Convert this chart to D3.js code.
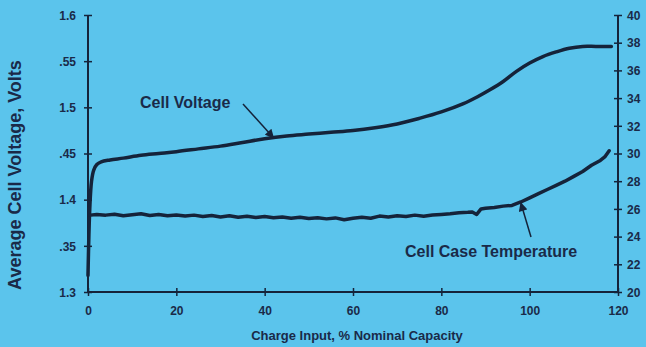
<!DOCTYPE html>
<html>
<head>
<meta charset="utf-8">
<script src="https://cdn.jsdelivr.net/npm/d3@7/dist/d3.min.js"></script>
<style>
  html, body { margin: 0; padding: 0; background: #5bc4ec; }
  svg { display: block; }
  text { font-family: Arial, "Liberation Sans", sans-serif; font-weight: bold; fill: #1a2a48; }
</style>
</head>
<body>
<svg id="chart" width="646" height="347"></svg>
<script>
// Charge input, % of nominal capacity
const voltagePct = [0, 0.4, 0.8, 1.3, 2, 3, 5, 8, 12, 16, 20, 25, 30, 35, 40, 45, 50, 55, 60, 65, 70, 75, 80, 85, 88, 91, 94, 97, 100, 103, 106, 109, 112, 115, 118.5];
// Average cell voltage, volts
const voltageValues = [1.318, 1.39, 1.42, 1.432, 1.438, 1.441, 1.443, 1.445, 1.448, 1.450, 1.452, 1.455, 1.458, 1.462, 1.466, 1.469, 1.471, 1.473, 1.475, 1.478, 1.482, 1.488, 1.495, 1.504, 1.511, 1.519, 1.528, 1.539, 1.548, 1.555, 1.560, 1.564, 1.566, 1.566, 1.566];

const tempPct = [0.5, 2, 4, 6, 8, 10, 12, 14, 16, 18, 20, 22, 24, 26, 28, 30, 32, 34, 36, 38, 40, 42, 44, 46, 48, 50, 52, 54, 56, 58, 60, 62, 64, 66, 68, 70, 72, 74, 76, 78, 80, 82, 84, 86, 87, 88, 89, 90, 92, 94, 96, 98, 100, 102, 104, 106, 108, 110, 112, 114, 116, 117, 118];
// Cell case temperature, deg C
const tempValues = [25.55, 25.6, 25.55, 25.62, 25.5, 25.58, 25.65, 25.52, 25.6, 25.5, 25.56, 25.48, 25.55, 25.45, 25.52, 25.42, 25.5, 25.4, 25.47, 25.38, 25.45, 25.36, 25.42, 25.33, 25.4, 25.3, 25.36, 25.28, 25.35, 25.22, 25.33, 25.4, 25.32, 25.48, 25.42, 25.5, 25.45, 25.55, 25.47, 25.56, 25.6, 25.65, 25.72, 25.75, 25.78, 25.6, 26.0, 26.05, 26.1, 26.2, 26.25, 26.5, 26.8, 27.1, 27.4, 27.7, 28.0, 28.35, 28.7, 29.15, 29.5, 29.75, 30.2];

const xTicks = [0, 20, 40, 60, 80, 100, 120];
const leftTickValues = [1.3, 1.35, 1.4, 1.45, 1.5, 1.55, 1.6];
const leftTickLabels = ["1.3", ".35", "1.4", ".45", "1.5", ".55", "1.6"];
const rightTicks = [20, 22, 24, 26, 28, 30, 32, 34, 36, 38, 40];

const ink = "#15233a";
const svg = d3.select("#chart");
const plotL = 88, plotR = 618, plotT = 15, plotB = 292;

const x = d3.scaleLinear().domain([0, 120]).range([plotL, plotR]);
const yV = d3.scaleLinear().domain([1.3, 1.6]).range([plotB, plotT]);
const yT = d3.scaleLinear().domain([20, 40]).range([plotB, plotT]);

// Axes: lines with ticks crossing them
const xAxis = svg.append("g").attr("transform", `translate(0,${plotB})`)
  .call(d3.axisBottom(x).tickValues(xTicks).tickSize(0).tickFormat(""));
xAxis.select(".domain").remove();
xAxis.append("line").attr("x1", plotL).attr("x2", plotR).attr("stroke", ink).attr("stroke-width", 2);
xAxis.selectAll(".tick").append("line").attr("y1", -4).attr("y2", 4).attr("stroke", ink).attr("stroke-width", 1.5);
xAxis.selectAll(".tick").append("text").attr("y", 23).attr("text-anchor", "middle")
  .attr("font-size", 12).text(d => d);

const lAxis = svg.append("g").attr("transform", `translate(${plotL},0)`)
  .call(d3.axisLeft(yV).tickValues(leftTickValues).tickSize(0).tickFormat(""));
lAxis.select(".domain").remove();
lAxis.append("line").attr("y1", plotT).attr("y2", plotB).attr("stroke", ink).attr("stroke-width", 2);
lAxis.selectAll(".tick").append("line").attr("x1", -4).attr("x2", 4).attr("stroke", ink).attr("stroke-width", 1.5);
lAxis.selectAll(".tick").append("text").attr("x", -12).attr("dy", "0.35em").attr("text-anchor", "end")
  .attr("font-size", 12).text((d, i) => leftTickLabels[i]);

const rAxis = svg.append("g").attr("transform", `translate(${plotR},0)`)
  .call(d3.axisRight(yT).tickValues(rightTicks).tickSize(0).tickFormat(""));
rAxis.select(".domain").remove();
rAxis.append("line").attr("y1", plotT).attr("y2", plotB).attr("stroke", ink).attr("stroke-width", 2);
rAxis.selectAll(".tick").append("line").attr("x1", -4).attr("x2", 4).attr("stroke", ink).attr("stroke-width", 1.5);
rAxis.selectAll(".tick").append("text").attr("x", 9).attr("dy", "0.35em").attr("text-anchor", "start")
  .attr("font-size", 12).text(d => d);

// Axis titles
svg.append("text").attr("x", 357).attr("y", 340).attr("text-anchor", "middle")
  .attr("font-size", 13).text("Charge Input, % Nominal Capacity");
svg.append("text").attr("transform", "translate(21,175) rotate(-90)").attr("text-anchor", "middle")
  .attr("font-size", 18).text("Average Cell Voltage, Volts");

// Curves
const vLine = d3.line().curve(d3.curveCatmullRom).x(d => x(d[0])).y(d => yV(d[1]));
svg.append("path").datum(voltagePct.map((p, i) => [p, voltageValues[i]]))
  .attr("d", vLine).attr("fill", "none").attr("stroke", ink).attr("stroke-width", 3.5)
  .attr("stroke-linejoin", "round").attr("stroke-linecap", "round");

const tLine = d3.line().curve(d3.curveLinear).x(d => x(d[0])).y(d => yT(d[1]));
svg.append("path").datum(tempPct.map((p, i) => [p, tempValues[i]]))
  .attr("d", tLine).attr("fill", "none").attr("stroke", ink).attr("stroke-width", 3.5)
  .attr("stroke-linejoin", "round").attr("stroke-linecap", "round");

// Annotation arrows
const defs = svg.append("defs");
defs.append("marker").attr("id", "head").attr("viewBox", "0 0 10 10")
  .attr("refX", 9).attr("refY", 5).attr("markerWidth", 11).attr("markerHeight", 9)
  .attr("markerUnits", "userSpaceOnUse").attr("orient", "auto")
  .append("path").attr("d", "M0,0 L10,5 L0,10 Z").attr("fill", ink);

function arrow(x1, y1, x2, y2) {
  svg.append("line").attr("x1", x1).attr("y1", y1).attr("x2", x2).attr("y2", y2)
    .attr("stroke", ink).attr("stroke-width", 1.5).attr("marker-end", "url(#head)");
}

svg.append("text").attr("x", 140).attr("y", 108).attr("font-size", 16).text("Cell Voltage");
arrow(243, 104, x(42), yV(1.466) - 1);

svg.append("text").attr("x", 405).attr("y", 257).attr("font-size", 16).text("Cell Case Temperature");
arrow(531, 237, x(98), yT(26.5) + 1);
</script>
</body>
</html>
